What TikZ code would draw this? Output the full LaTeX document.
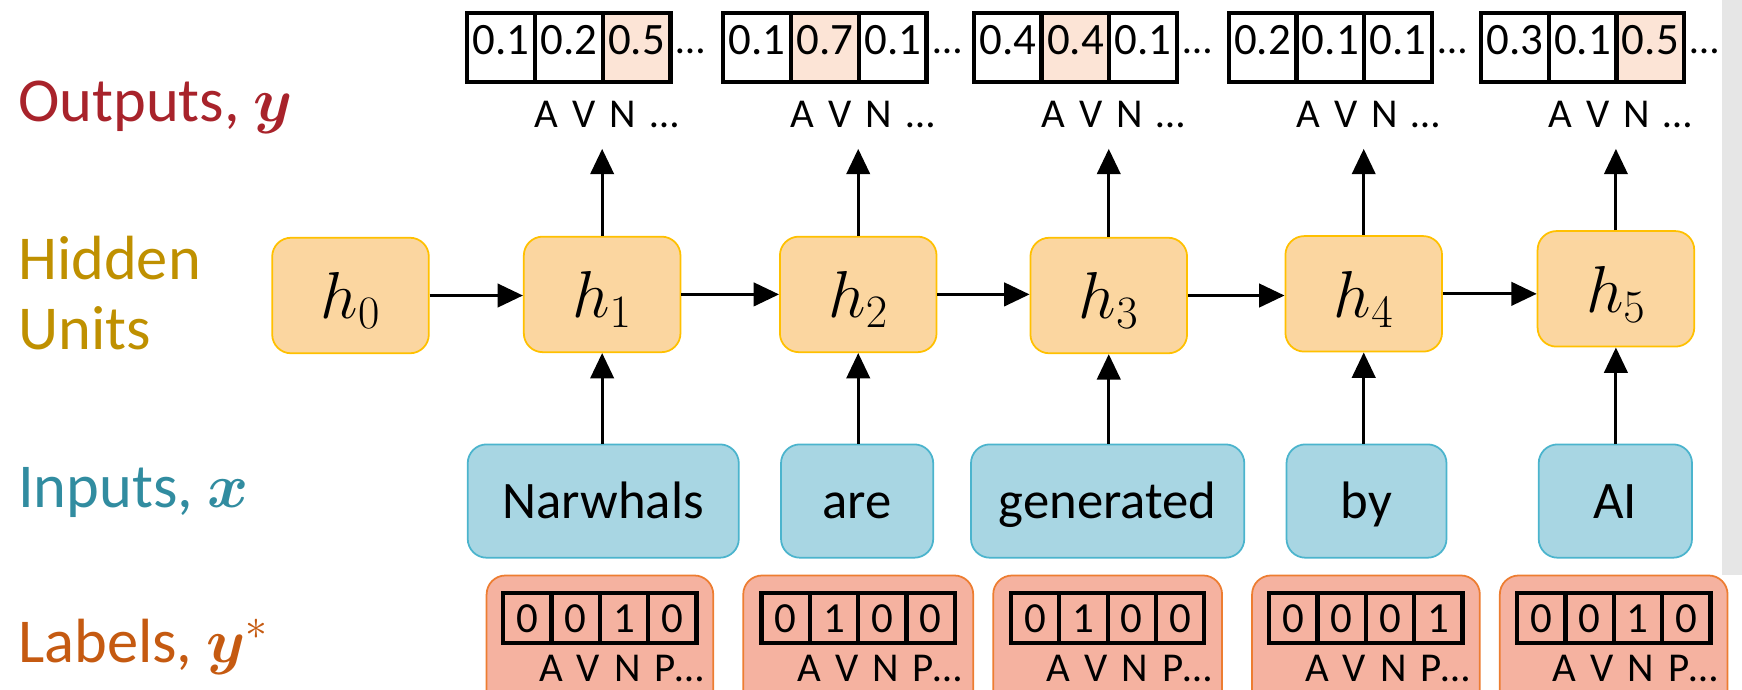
\RequirePackage{fix-cm}
\documentclass[tikz,border=0pt]{standalone}
\usepackage{amsmath}
\usepackage{bm}
\usepackage{fontspec}
\setmainfont{Carlito}
\usetikzlibrary{arrows.meta}
\newlength\pxu
\setlength\pxu{0.02cm}
\definecolor{hidfill}{RGB}{251,214,160}
\definecolor{hiddraw}{RGB}{255,192,0}
\definecolor{infill}{RGB}{168,214,227}
\definecolor{indraw}{RGB}{75,180,205}
\definecolor{labfill}{RGB}{245,178,160}
\definecolor{labdraw}{RGB}{237,125,49}
\definecolor{hifill}{RGB}{252,228,214}
\definecolor{outcol}{RGB}{168,35,43}
\definecolor{hidcol}{RGB}{191,144,0}
\definecolor{incol}{RGB}{49,140,160}
\definecolor{labcol}{RGB}{197,90,17}
\definecolor{stripgray}{RGB}{230,230,230}
\tikzset{
  rowlab/.style={anchor=base west, inner sep=0pt, font=\fontsize{32}{38}\selectfont},
  hid/.style={draw=hiddraw, fill=hidfill, line width=0.9pt, rounded corners=17\pxu,
    minimum width=141\pxu, minimum height=104\pxu, inner sep=0pt,
    text height=24pt, text depth=0pt, font=\fontsize{34}{40}\selectfont},
  inp/.style={draw=indraw, fill=infill, line width=0.9pt, rounded corners=17\pxu,
    minimum height=102\pxu, inner sep=0pt, text height=22pt, text depth=4pt,
    font=\fontsize{27}{32}\selectfont},
  labbox/.style={draw=labdraw, fill=labfill, line width=0.9pt, rounded corners=17\pxu,
    minimum height=124\pxu, inner sep=0pt},
  ocell/.style={draw=black, line width=2.2pt, minimum width=61\pxu, minimum height=62\pxu,
    inner sep=0pt, text height=15pt, text depth=8.2pt, font=\fontsize{23}{27}\selectfont},
  lcell/.style={draw=black, line width=2.2pt, minimum width=43.5\pxu, minimum height=45\pxu,
    inner sep=0pt, font=\fontsize{22}{26}\selectfont},
  avn/.style={anchor=base, inner sep=0pt, font=\fontsize{21}{25}\selectfont},
  avnp/.style={anchor=base west, inner sep=0pt, font=\fontsize{21}{25}\selectfont},
  dotsn/.style={anchor=base west, inner sep=0pt, font=\fontsize{21}{25}\selectfont},
  arr/.style={line width=1.5pt, -{Triangle[length=13pt,width=12pt]}}
}
\newcommand{\hlab}[1]{$h_{#1}$\hspace{14\pxu}}
\newcommand{\wsp}{\hspace{0.34em}}
\begin{document}
\begin{tikzpicture}[x=0.02cm,y=-0.02cm]
\useasboundingbox (0,0) rectangle (1568,621);
\clip (0,0) rectangle (1568,621);
\fill[stripgray] (1550,0) rectangle (1568,518);

% row labels
\node[rowlab, text=outcol] (lout) at (16,109) {Outputs, $\bm{y}$};
\node[rowlab, text=hidcol] (lhid1) at (16,252) {Hidden};
\node[rowlab, text=hidcol] (lhid2) at (16,315) {Units};
\node[rowlab, text=incol] (lin) at (16,457) {Inputs, $\bm{x}$};
\node[rowlab, text=labcol] (llab) at (16,596) {Labels, $\bm{y}^{*}$};

% hidden units
\node[hid] (h0) at (315.5,266) {\hlab{0}};
\node[hid] (h1) at (542,265) {\hlab{1}};
\node[hid] (h2) at (772.5,265) {\hlab{2}};
\node[hid] (h3) at (998,266) {\hlab{3}};
\node[hid] (h4) at (1227.5,264.5) {\hlab{4}};
\node[hid] (h5) at (1454.5,260) {\hlab{5}};

\foreach \s/\t in {0/1,1/2,2/3,3/4,4/5}
  \draw[arr] (h\s.east) -- (h\s.east -| h\t.west);

% inputs
\node[inp, minimum width=244\pxu] (x1) at (543,451) {Narwhals};
\node[inp, minimum width=137\pxu] (x2) at (771.5,451) {are};
\node[inp, minimum width=246\pxu] (x3) at (997,451) {generated};
\node[inp, minimum width=144\pxu] (x4) at (1230,451) {by};
\node[inp, minimum width=138\pxu] (x5) at (1454,451) {AI};

\foreach \i in {1,...,5}
  \draw[arr] (x\i.north -| h\i.south) -- (h\i.south);

% outputs
\foreach \i/\ax/\va/\vb/\vc/\fa/\fb/\fc in {
  1/542/0.1/0.2/0.5/white/white/hifill,
  2/772.5/0.1/0.7/0.1/white/hifill/white,
  3/998/0.4/0.4/0.1/white/hifill/white,
  4/1227.5/0.2/0.1/0.1/white/white/white,
  5/1454.5/0.3/0.1/0.5/white/white/hifill}
{
  \node[ocell, fill=\fa] (o\i-1) at (\ax-91,43) {\va};
  \node[ocell, fill=\fb] (o\i-2) at (\ax-30,43) {\vb};
  \node[ocell, fill=\fc] (o\i-3) at (\ax+31,43) {\vc};
  \node[dotsn] (oe\i) at (\ax+67,48) {…};
  \node[avn] (avn\i) at (\ax+4,115) {A\wsp V\wsp N\wsp …};
  \coordinate (t\i) at (\ax,134);
  \draw[arr] (h\i.north) -- (t\i);
}

% labels
\foreach \i/\cx/\bw/\da/\db/\dc/\dd in {
  1/540/204/0/0/1/0,
  2/772.5/207/0/1/0/0,
  3/997/206/0/1/0/0,
  4/1229.5/205/0/0/0/1,
  5/1452.5/205/0/0/1/0}
{
  \node[labbox, minimum width=\bw\pxu] (y\i) at (\cx,580) {};
  \node[lcell] (y\i-1) at (\cx-65.25,556.5) {\da};
  \node[lcell] (y\i-2) at (\cx-21.75,556.5) {\db};
  \node[lcell] (y\i-3) at (\cx+21.75,556.5) {\dc};
  \node[lcell] (y\i-4) at (\cx+65.25,556.5) {\dd};
  \node[avnp] (ya\i) at (\cx-55,613) {A\wsp V\wsp N\wsp P…};
}
\end{tikzpicture}
\end{document}
